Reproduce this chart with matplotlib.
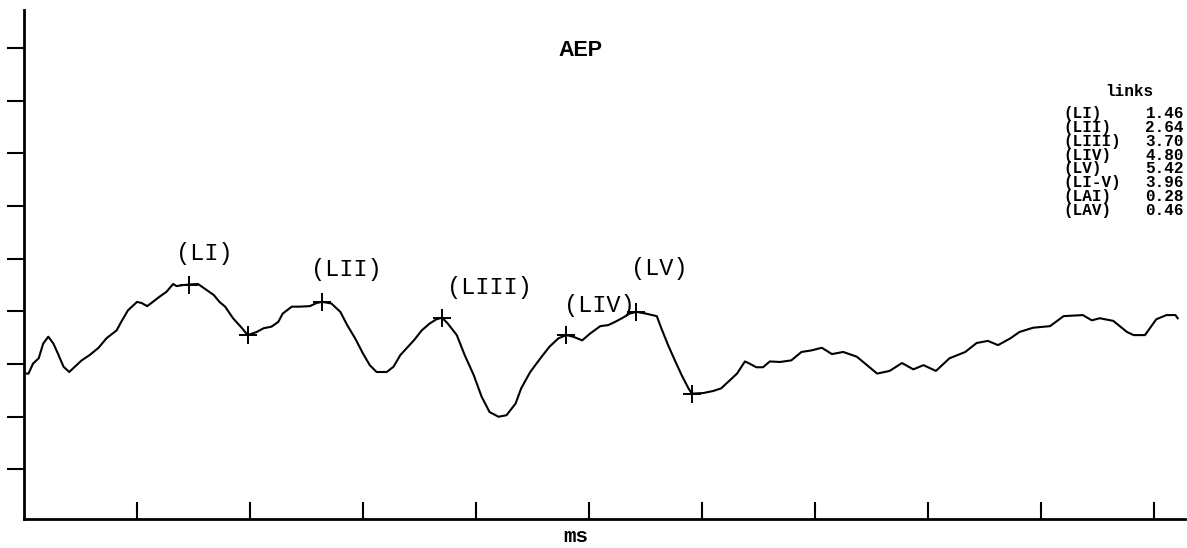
import matplotlib.pyplot as plt

# averaged response, time in ms and amplitude in screen divisions
t_ms = [0.01, 0.04, 0.08, 0.13, 0.17, 0.215, 0.26, 0.30, 0.35, 0.40, 0.45, 0.51,
        0.58, 0.66, 0.73, 0.82, 0.86, 0.92, 1.00, 1.04, 1.09, 1.14, 1.20, 1.26,
        1.32, 1.35, 1.41, 1.46, 1.54, 1.62, 1.68, 1.73, 1.78, 1.85, 1.93, 1.98,
        2.06, 2.12, 2.19, 2.25, 2.29, 2.37, 2.44, 2.53, 2.59, 2.64, 2.72, 2.80,
        2.86, 2.93, 3.00, 3.06, 3.12, 3.21, 3.27, 3.33, 3.39, 3.45, 3.52, 3.59,
        3.65, 3.70, 3.75, 3.83, 3.90, 3.98, 4.05, 4.12, 4.20, 4.27, 4.35, 4.40,
        4.48, 4.57, 4.65, 4.73, 4.80, 4.86, 4.94, 5.01, 5.10, 5.17, 5.23, 5.30,
        5.36, 5.42, 5.50, 5.60, 5.64, 5.70, 5.76, 5.82, 5.88, 5.91, 6.01, 6.10,
        6.17, 6.23, 6.31, 6.38, 6.42, 6.48, 6.54, 6.60, 6.69, 6.79, 6.88, 6.97,
        7.06, 7.15, 7.25, 7.37, 7.46, 7.55, 7.66, 7.77, 7.87, 7.96, 8.07, 8.19,
        8.33, 8.43, 8.53, 8.62, 8.73, 8.81, 8.93, 9.08, 9.20, 9.37, 9.45, 9.52,
        9.64, 9.76, 9.82, 9.92, 10.02, 10.11, 10.19, 10.21]
amp = [2.82, 2.82, 3.01, 3.11, 3.39, 3.52, 3.39, 3.20, 2.95, 2.85, 2.95, 3.07,
       3.17, 3.31, 3.49, 3.64, 3.80, 4.02, 4.18, 4.16, 4.10, 4.18, 4.28, 4.37,
       4.52, 4.48, 4.50, 4.51, 4.52, 4.40, 4.31, 4.18, 4.09, 3.87, 3.68, 3.55,
       3.61, 3.68, 3.71, 3.80, 3.96, 4.09, 4.09, 4.10, 4.16, 4.18, 4.15, 3.99,
       3.74, 3.49, 3.20, 2.98, 2.85, 2.85, 2.95, 3.17, 3.31, 3.45, 3.64, 3.77,
       3.85, 3.88, 3.77, 3.55, 3.17, 2.79, 2.38, 2.09, 2.00, 2.03, 2.25, 2.54,
       2.85, 3.11, 3.33, 3.49, 3.55, 3.52, 3.45, 3.58, 3.72, 3.74, 3.80, 3.88,
       3.96, 3.99, 3.96, 3.91, 3.68, 3.36, 3.07, 2.79, 2.54, 2.44, 2.45, 2.49,
       2.54, 2.66, 2.82, 3.05, 3.01, 2.94, 2.94, 3.05, 3.04, 3.07, 3.23, 3.26,
       3.31, 3.19, 3.23, 3.14, 2.98, 2.82, 2.87, 3.02, 2.90, 2.98, 2.87, 3.11,
       3.23, 3.40, 3.44, 3.36, 3.49, 3.61, 3.69, 3.72, 3.91, 3.93, 3.83, 3.87,
       3.82, 3.61, 3.55, 3.55, 3.85, 3.93, 3.93, 3.87]

# marked peaks and troughs
mark_t = [1.46, 1.98, 2.64, 3.70, 4.80, 5.42, 5.91]
mark_amp = [4.51, 3.55, 4.18, 3.88, 3.55, 3.99, 2.44]

peak_names = ["(LI)", "(LII)", "(LIII)", "(LIV)", "(LV)"]
peak_t = [1.46, 2.64, 3.70, 4.80, 5.42]
peak_amp = [4.51, 4.18, 3.88, 3.55, 3.99]
# label offsets in pixels (left edge, vertical centre)
label_dx = [-13, -11, 5, -2, -5]
label_dy = [31, 32, 30, 30, 43]

table_names = ["(LI)", "(LII)", "(LIII)", "(LIV)", "(LV)", "(LI-V)", "(LAI)", "(LAV)"]
table_values = ["1.46", "2.64", "3.70", "4.80", "5.42", "3.96", "0.28", "0.46"]

W, H = 1187, 548
fig = plt.figure(figsize=(W / 100, H / 100), dpi=100)
ax = fig.add_axes([24 / W, 1 - 519 / H, 1161 / W, 509 / H])

ax.plot(t_ms, amp, color="black", lw=1.5)
ax.plot(mark_t, mark_amp, ls="none", marker="+", ms=13, mew=1.4, color="black")

for name, x, y, dx, dy in zip(peak_names, peak_t, peak_amp, label_dx, label_dy):
    ax.annotate(name, (x, y), xytext=(dx, dy), textcoords="offset pixels",
                ha="left", va="center", family="Liberation Mono",
                fontsize=17, color="black")

ax.set_xlim(0, 1161 / 113)
ax.set_ylim(0.06, 9.72)
ax.set_xticks(range(1, 11))
ax.set_yticks(range(1, 10))
ax.set_xticklabels([])
ax.set_yticklabels([])
ax.tick_params(axis="x", direction="in", length=12, width=1.5)
ax.tick_params(axis="y", direction="out", length=12, width=1.5)
for side in ["top", "right"]:
    ax.spines[side].set_visible(False)
for side in ["left", "bottom"]:
    ax.spines[side].set_linewidth(2)

fig.text(580 / W, 1 - 50 / H, "AEP", ha="center", va="center",
         family="Liberation Sans", fontweight="bold", fontsize=15.5)
fig.text(576 / W, 1 - 536 / H, "ms", ha="center", va="center",
         family="Liberation Mono", fontweight="bold", fontsize=15)

# measurement table on the right
fig.text(1129 / W, 1 - 91 / H, "links", ha="center", va="center",
         family="Liberation Mono", fontweight="bold", fontsize=11.5)
for i, (n, v) in enumerate(zip(table_names, table_values)):
    yy = 1 - (113.5 + 13.85 * i) / H
    fig.text(1063 / W, yy, n, ha="left", va="center",
             family="Liberation Mono", fontweight="bold", fontsize=11.5)
    fig.text(1184 / W, yy, v, ha="right", va="center",
             family="Liberation Mono", fontweight="bold", fontsize=11.5)

fig.savefig("out.png", dpi=100)
